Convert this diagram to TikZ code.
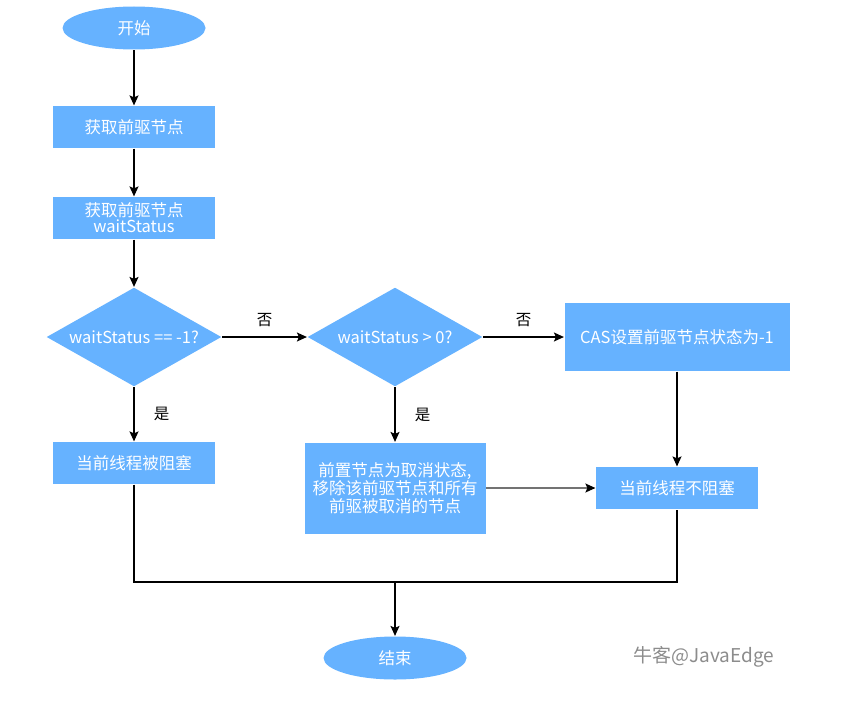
\documentclass[tikz,border=0pt]{standalone}
\usepackage{fontspec}
\setmainfont{Noto Sans CJK SC}
\usetikzlibrary{arrows.meta,shapes.geometric}
\definecolor{flowblue}{RGB}{102,178,255}

\begin{document}
\begin{tikzpicture}[x=1pt,y=-1pt,every node/.style={font=\fontsize{16.5}{19}\selectfont},
 line width=1.2pt,
 arr/.style={-{Stealth[length=10pt,width=9pt,inset=2pt]}},
 term/.style={ellipse,fill=flowblue,text=white,minimum width=143pt,minimum height=43pt,inner sep=0pt},
 proc/.style={rectangle,fill=flowblue,text=white,align=center,minimum width=162pt,minimum height=42pt,inner sep=2pt},
 test/.style={diamond,fill=flowblue,text=white,aspect=1.77,minimum width=175pt,minimum height=99pt,inner sep=0pt},
 lbl/.style={font=\fontsize{15.5}{17}\selectfont}]
\useasboundingbox (0,0) rectangle (853,725);
\node[term] (start) at (134,28) {开始};
\node[proc] (getpred) at (134,127) {获取前驱节点};
\node[proc] (getws) at (134,218) {获取前驱节点\\[-3pt]waitStatus};
\node[test] (isneg) at (134,337) {waitStatus == -1?};
\node[test] (ispos) at (395,337) {waitStatus > 0?};
\node[proc,minimum width=225pt,minimum height=68pt] (casset) at (677,337) {CAS设置前驱节点状态为-1};
\node[proc] (block) at (134,463) {当前线程被阻塞};
\node[proc,minimum width=181pt,minimum height=91pt,inner sep=0pt] (remove) at (395,488)
 {前置节点为取消状态,\\[-1pt]移除该前驱节点和所有\\[-1pt]前驱被取消的节点};
\node[proc] (noblock) at (677,488) {当前线程不阻塞};
\node[term] (finish) at (395,658) {结束};
\coordinate (join) at (395,582);
\draw[arr] (start) -- (getpred);
\draw[arr] (getpred) -- (getws);
\draw[arr] (getws) -- (isneg);
\draw[arr] (isneg) -- node[lbl,above=6pt] {否} (ispos);
\draw[arr] (ispos) -- node[lbl,above=6pt] {否} (casset);
\draw[arr] (isneg) -- node[lbl,right=16pt] {是} (block);
\draw[arr] (ispos) -- node[lbl,right=16pt] {是} (remove);
\draw[arr] (casset) -- (noblock);
\draw[-{Stealth[length=10pt,width=9pt,inset=2pt,color=black]},black!55] (remove) -- (noblock);
\draw (block.south) |- (join) -| (noblock.south);
\draw[arr] (join) -- (finish);
\node[text=black!45,font=\fontsize{19}{21}\selectfont] (mark) at (704,657) {牛客@JavaEdge};
\end{tikzpicture}
\end{document}
